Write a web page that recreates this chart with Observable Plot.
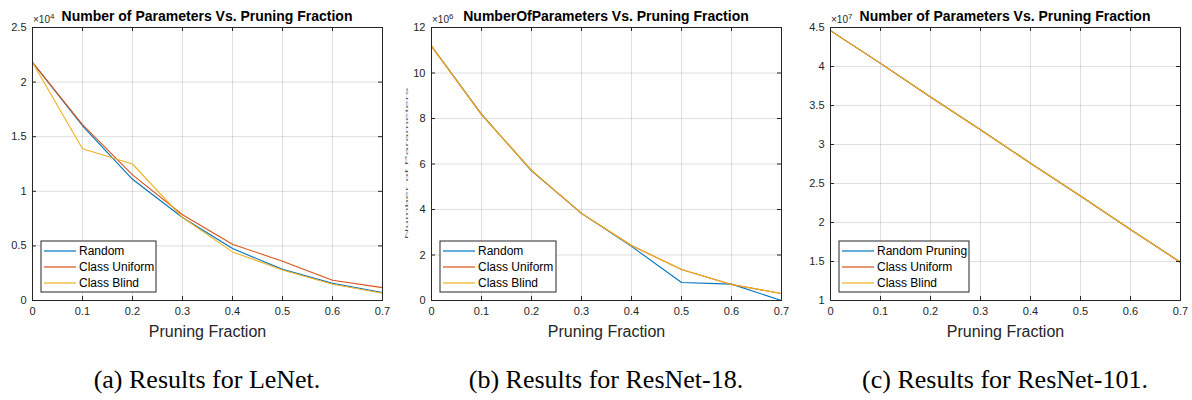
<!DOCTYPE html>
<html>
<head>
<meta charset="utf-8">
<script src="https://cdn.jsdelivr.net/npm/d3@7"></script>
<script src="https://cdn.jsdelivr.net/npm/@observablehq/plot@0.6"></script>
<style>
  html, body { margin: 0; padding: 0; background: #fff; }
  #root { position: relative; width: 1192px; height: 400px; overflow: hidden; }
  .panel { position: absolute; top: 0; }
  .caption { position: absolute; top: 365px; font-family: "Liberation Serif", "Times New Roman", serif; font-size: 26px; line-height: 30px; color: #000; text-align: center; white-space: nowrap; }
</style>
</head>
<body>
<div id="root"></div>
<script>
// ---- data (values in units of the axis multiplier) ----
const pruningFraction = [0, 0.1, 0.2, 0.3, 0.4, 0.5, 0.6, 0.7];

const lenetRandom  = [2.18, 1.60, 1.11, 0.76, 0.476, 0.285, 0.158, 0.073];
const lenetUniform = [2.18, 1.61, 1.15, 0.785, 0.515, 0.36, 0.185, 0.118];
const lenetBlind   = [2.18, 1.39, 1.25, 0.76, 0.445, 0.28, 0.149, 0.067];

const resnet18Random  = [11.18, 8.19, 5.70, 3.83, 2.38, 0.79, 0.72, 0.0];
const resnet18Uniform = [11.18, 8.17, 5.72, 3.83, 2.42, 1.36, 0.70, 0.31];
const resnet18Blind   = [11.18, 8.17, 5.72, 3.83, 2.42, 1.36, 0.70, 0.31];

const resnet101Random  = [4.46, 4.04, 3.61, 3.19, 2.76, 2.34, 1.91, 1.49];
const resnet101Uniform = [4.46, 4.04, 3.61, 3.19, 2.76, 2.34, 1.91, 1.49];
const resnet101Blind   = [4.46, 4.04, 3.61, 3.19, 2.76, 2.34, 1.91, 1.49];

const xTicks = [0, 0.1, 0.2, 0.3, 0.4, 0.5, 0.6, 0.7];
const lenetYTicks = [0, 0.5, 1, 1.5, 2, 2.5];
const resnet18YTicks = [0, 2, 4, 6, 8, 10, 12];
const resnet101YTicks = [1, 1.5, 2, 2.5, 3, 3.5, 4, 4.5];

const seriesColors = ["#0072BD", "#D95319", "#EDB120"];
const titles = ["Number of Parameters Vs. Pruning Fraction", "NumberOfParameters Vs. Pruning Fraction", "Number of Parameters Vs. Pruning Fraction"];
const exponents = ["4", "6", "7"];
const captions = ["(a) Results for LeNet.", "(b) Results for ResNet-18.", "(c) Results for ResNet-101."];
const legendA = ["Random", "Class Uniform", "Class Blind"];
const legendC = ["Random Pruning", "Class Uniform", "Class Blind"];

function rows(names, arrays) {
  const out = [];
  names.forEach((n, i) => arrays[i].forEach((v, j) => out.push({series: n, x: pruningFraction[j], y: v})));
  return out;
}

const FONT = '"Liberation Sans", Arial, Helvetica, sans-serif';
const INK = "#262626";

function panel({data, names, yDomain, yTicks, title, exp, width, legendWidth, ylabel}) {
  const H = 345, mt = 27, mb = 45, ml = 32, pw = 350;
  const mr = width - ml - pw;
  const ph = H - mt - mb;
  const marks = [
    Plot.gridX(xTicks, {stroke: INK, strokeOpacity: 0.15}),
    Plot.gridY(yTicks, {stroke: INK, strokeOpacity: 0.15}),
    Plot.line(data, {x: "x", y: "y", z: "series", stroke: "series", strokeWidth: 1.1}),
    Plot.frame({stroke: INK, strokeWidth: 1}),
    Plot.tickX(xTicks, {x: d => d, insetTop: ph - 4, stroke: INK}),
    Plot.tickX(xTicks, {x: d => d, insetBottom: ph - 4, stroke: INK}),
    Plot.tickY(yTicks, {y: d => d, insetRight: pw - 4, stroke: INK}),
    Plot.tickY(yTicks, {y: d => d, insetLeft: pw - 4, stroke: INK}),
    Plot.axisX(xTicks, {tickSize: 0, tickPadding: 7, fontSize: 11, fill: INK, label: null, tickFormat: d => d === 0 ? "0" : d3.format(".1f")(d)}),
    Plot.axisY(yTicks, {tickSize: 0, tickPadding: 6, fontSize: 11, fill: INK, label: null, tickFormat: d => String(d)}),
    Plot.text(["Pruning Fraction"], {frameAnchor: "bottom", dy: 36, lineAnchor: "bottom", fontSize: 16, fill: INK})
  ];
  const svg = Plot.plot({
    width, height: H,
    marginTop: mt, marginBottom: mb, marginLeft: ml, marginRight: mr,
    style: {fontFamily: FONT, background: "transparent", overflow: "visible"},
    x: {domain: [0, 0.7], axis: null},
    y: {domain: yDomain, axis: null},
    color: {domain: names, range: seriesColors},
    marks
  });
  const s = d3.select(svg);
  // title
  s.append("text").attr("x", ml + pw / 2).attr("y", 21).attr("text-anchor", "middle")
    .attr("font-family", FONT).attr("font-size", 14).attr("font-weight", "bold").attr("fill", "#000").text(title);
  // axis multiplier ×10^n
  const m = s.append("text").attr("x", ml + 1).attr("y", 23).attr("text-anchor", "start")
    .attr("font-family", FONT).attr("font-size", 10).attr("fill", INK);
  m.append("tspan").text("×10");
  m.append("tspan").attr("dy", -4).attr("font-size", 8).text(exp);
  // faint y label
  if (ylabel) {
    s.append("text").attr("transform", `translate(8,${mt + ph / 2}) rotate(-90) scale(1,0.2)`)
      .attr("text-anchor", "middle").attr("dy", "0.35em").attr("font-family", FONT).attr("font-size", 15)
      .attr("fill", INK).attr("fill-opacity", 0.8).text(ylabel);
  }
  // in-plot legend (bottom-left)
  const lx = ml + 9, ly = 241, lh = 51;
  const g = s.append("g").attr("font-family", FONT).attr("font-size", 12).attr("text-anchor", "start");
  g.append("rect").attr("x", lx).attr("y", ly).attr("width", legendWidth).attr("height", lh)
    .attr("fill", "#fff").attr("stroke", INK).attr("stroke-width", 1);
  names.forEach((n, i) => {
    const cy = ly + 10 + i * 16;
    g.append("line").attr("x1", lx + 3).attr("x2", lx + 35).attr("y1", cy).attr("y2", cy)
      .attr("stroke", seriesColors[i]).attr("stroke-width", 1.2);
    g.append("text").attr("x", lx + 38).attr("y", cy).attr("dy", "0.35em").attr("text-anchor", "start")
      .attr("fill", "#000").text(n);
  });
  return svg;
}

const root = document.getElementById("root");
const specs = [
  {data: rows(legendA, [lenetRandom, lenetUniform, lenetBlind]), names: legendA, yDomain: [0, 2.5], yTicks: lenetYTicks, width: 399, legendWidth: 115},
  {data: rows(legendA, [resnet18Random, resnet18Uniform, resnet18Blind]), names: legendA, yDomain: [0, 12], yTicks: resnet18YTicks, width: 399, legendWidth: 116, ylabel: "Number of Parameters"},
  {data: rows(legendC, [resnet101Random, resnet101Uniform, resnet101Blind]), names: legendC, yDomain: [1, 4.5], yTicks: resnet101YTicks, width: 394, legendWidth: 130}
];
const lefts = [0, 399, 798];
specs.forEach((s, i) => {
  const div = document.createElement("div");
  div.className = "panel";
  div.style.left = lefts[i] + "px";
  div.appendChild(panel({...s, title: titles[i], exp: exponents[i]}));
  root.appendChild(div);
  const cap = document.createElement("div");
  cap.className = "caption";
  cap.style.left = (lefts[i] + 32 + 175 - 200) + "px";
  cap.style.width = "400px";
  cap.textContent = captions[i];
  root.appendChild(cap);
});
</script>
</body>
</html>
